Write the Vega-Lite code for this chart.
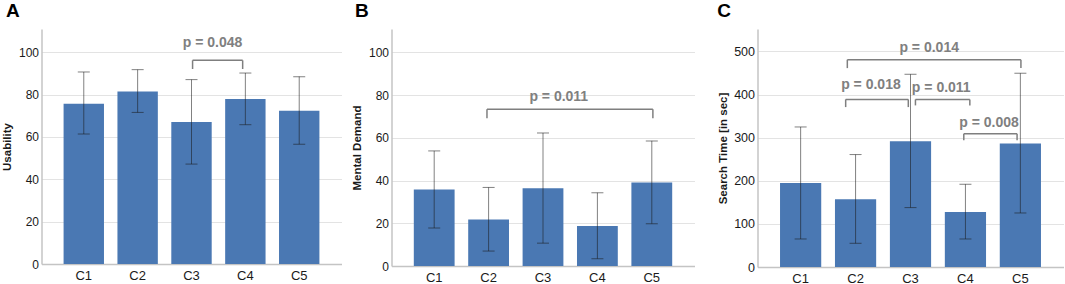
{
  "$schema": "https://vega.github.io/schema/vega-lite/v6.json",
  "padding": {"left": 1.5, "top": 2, "right": 0, "bottom": 0},
  "background": "white",
  "datasets": {
    "barsA": [
      {"cond": "C1", "mean": 75.7, "lo": 61.4, "hi": 90.7},
      {"cond": "C2", "mean": 81.5, "lo": 71.6, "hi": 91.8},
      {"cond": "C3", "mean": 67.1, "lo": 47.2, "hi": 87.1},
      {"cond": "C4", "mean": 77.9, "lo": 65.8, "hi": 90.2},
      {"cond": "C5", "mean": 72.4, "lo": 56.6, "hi": 88.5}
    ],
    "barsB": [
      {"cond": "C1", "mean": 35.8, "lo": 17.8, "hi": 53.9},
      {"cond": "C2", "mean": 21.8, "lo": 7.0, "hi": 36.8},
      {"cond": "C3", "mean": 36.4, "lo": 10.7, "hi": 62.3},
      {"cond": "C4", "mean": 18.7, "lo": 3.4, "hi": 34.3},
      {"cond": "C5", "mean": 39.1, "lo": 19.8, "hi": 58.6}
    ],
    "barsC": [
      {"cond": "C1", "mean": 194.9, "lo": 65, "hi": 324.8},
      {"cond": "C2", "mean": 157, "lo": 55, "hi": 260.8},
      {"cond": "C3", "mean": 291.6, "lo": 137.8, "hi": 447},
      {"cond": "C4", "mean": 127.6, "lo": 65, "hi": 191.9},
      {"cond": "C5", "mean": 286.3, "lo": 125.3, "hi": 449.4}
    ],
    "brA": [
      {"label": "p = 0.048", "x1": 3.02, "x2": 3.95, "yb": 96.2, "yl": 92.1, "tx": 3.39, "ty": 102.4}
    ],
    "brB": [
      {"label": "p = 0.011", "x1": 1.97, "x2": 5.02, "yb": 73.4, "yl": 69.2, "tx": 3.29, "ty": 77.4}
    ],
    "brC": [
      {"label": "p = 0.014", "x1": 1.85, "x2": 5.01, "yb": 480.8, "yl": 461.3, "tx": 3.34, "ty": 498},
      {"label": "p = 0.018", "x1": 1.82, "x2": 2.96, "yb": 388.7, "yl": 370.9, "tx": 2.28, "ty": 413.5},
      {"label": "p = 0.011", "x1": 3.09, "x2": 4.08, "yb": 388.7, "yl": 374.8, "tx": 3.56, "ty": 405.7},
      {"label": "p = 0.008", "x1": 3.97, "x2": 4.94, "yb": 309.2, "yl": 293.7, "tx": 4.43, "ty": 324.5}
    ]
  },
  "spacing": 22,
  "hconcat": [
    {
      "spacing": 10,
      "hconcat": [
        {
          "width": 300, "height": 235,
          "title": {"text": "A", "dx": 4},
          "resolve": {"scale": {"x": "independent"}},
          "layer": [
            {
              "data": {"name": "barsA"},
              "layer": [
                {"mark": {"type": "bar", "color": "#4a78b3"},
                 "encoding": {
                   "x": {"field": "cond", "type": "nominal", "title": null, "scale": {"paddingInner": 0.25, "paddingOuter": 0.41}},
                   "y": {"field": "mean", "type": "quantitative", "title": "Usability", "scale": {"domain": [0, 111], "nice": false}, "axis": {"values": [0, 20, 40, 60, 80, 100]}}
                 }},
                {"mark": {"type": "rule", "color": "#1a1a1a", "opacity": 0.55, "strokeWidth": 1},
                 "encoding": {"x": {"field": "cond", "type": "nominal"}, "y": {"field": "lo", "type": "quantitative"}, "y2": {"field": "hi"}}},
                {"mark": {"type": "tick", "color": "#1a1a1a", "opacity": 0.55, "size": 12, "thickness": 1},
                 "encoding": {"x": {"field": "cond", "type": "nominal"}, "y": {"field": "lo", "type": "quantitative"}}},
                {"mark": {"type": "tick", "color": "#1a1a1a", "opacity": 0.55, "size": 12, "thickness": 1},
                 "encoding": {"x": {"field": "cond", "type": "nominal"}, "y": {"field": "hi", "type": "quantitative"}}}
              ]
            },
            {
              "data": {"name": "brA"},
              "encoding": {"x": {"field": "x1", "type": "quantitative", "axis": null, "scale": {"domain": [0.215, 5.785], "nice": false, "zero": false}}},
              "layer": [
                {"mark": {"type": "rule", "color": "#7f7f7f", "strokeWidth": 1.5}, "encoding": {"x2": {"field": "x2"}, "y": {"field": "yb", "type": "quantitative"}}},
                {"mark": {"type": "rule", "color": "#7f7f7f", "strokeWidth": 1.5}, "encoding": {"y": {"field": "yb", "type": "quantitative"}, "y2": {"field": "yl"}}},
                {"mark": {"type": "rule", "color": "#7f7f7f", "strokeWidth": 1.5}, "encoding": {"x": {"field": "x2", "type": "quantitative"}, "y": {"field": "yb", "type": "quantitative"}, "y2": {"field": "yl"}}},
                {"mark": {"type": "text", "color": "#808080", "fontSize": 14, "fontWeight": "bold", "baseline": "alphabetic", "align": "center"},
                 "encoding": {"x": {"field": "tx", "type": "quantitative"}, "y": {"field": "ty", "type": "quantitative"}, "text": {"field": "label"}}}
              ]
            }
          ]
        },
        {
          "width": 303, "height": 237,
          "title": {"text": "B", "dx": 3},
          "resolve": {"scale": {"x": "independent"}},
          "layer": [
            {
              "data": {"name": "barsB"},
              "layer": [
                {"mark": {"type": "bar", "color": "#4a78b3"},
                 "encoding": {
                   "x": {"field": "cond", "type": "nominal", "title": null, "scale": {"paddingInner": 0.25, "paddingOuter": 0.41}},
                   "y": {"field": "mean", "type": "quantitative", "title": "Mental Demand", "scale": {"domain": [0, 111], "nice": false}, "axis": {"values": [0, 20, 40, 60, 80, 100]}}
                 }},
                {"mark": {"type": "rule", "color": "#1a1a1a", "opacity": 0.55, "strokeWidth": 1},
                 "encoding": {"x": {"field": "cond", "type": "nominal"}, "y": {"field": "lo", "type": "quantitative"}, "y2": {"field": "hi"}}},
                {"mark": {"type": "tick", "color": "#1a1a1a", "opacity": 0.55, "size": 12, "thickness": 1},
                 "encoding": {"x": {"field": "cond", "type": "nominal"}, "y": {"field": "lo", "type": "quantitative"}}},
                {"mark": {"type": "tick", "color": "#1a1a1a", "opacity": 0.55, "size": 12, "thickness": 1},
                 "encoding": {"x": {"field": "cond", "type": "nominal"}, "y": {"field": "hi", "type": "quantitative"}}}
              ]
            },
            {
              "data": {"name": "brB"},
              "encoding": {"x": {"field": "x1", "type": "quantitative", "axis": null, "scale": {"domain": [0.215, 5.785], "nice": false, "zero": false}}},
              "layer": [
                {"mark": {"type": "rule", "color": "#7f7f7f", "strokeWidth": 1.5}, "encoding": {"x2": {"field": "x2"}, "y": {"field": "yb", "type": "quantitative"}}},
                {"mark": {"type": "rule", "color": "#7f7f7f", "strokeWidth": 1.5}, "encoding": {"y": {"field": "yb", "type": "quantitative"}, "y2": {"field": "yl"}}},
                {"mark": {"type": "rule", "color": "#7f7f7f", "strokeWidth": 1.5}, "encoding": {"x": {"field": "x2", "type": "quantitative"}, "y": {"field": "yb", "type": "quantitative"}, "y2": {"field": "yl"}}},
                {"mark": {"type": "text", "color": "#808080", "fontSize": 14, "fontWeight": "bold", "baseline": "alphabetic", "align": "center"},
                 "encoding": {"x": {"field": "tx", "type": "quantitative"}, "y": {"field": "ty", "type": "quantitative"}, "text": {"field": "label"}}}
              ]
            }
          ]
        }
      ]
    },
    {
      "width": 306, "height": 238,
      "title": {"text": "C", "dx": 0},
      "resolve": {"scale": {"x": "independent"}},
      "layer": [
        {
          "data": {"name": "barsC"},
          "layer": [
            {"mark": {"type": "bar", "color": "#4a78b3"},
             "encoding": {
               "x": {"field": "cond", "type": "nominal", "title": null, "scale": {"paddingInner": 0.25, "paddingOuter": 0.41}},
               "y": {"field": "mean", "type": "quantitative", "title": "Search Time [in sec]", "scale": {"domain": [0, 552], "nice": false}, "axis": {"values": [0, 100, 200, 300, 400, 500], "labelFontSize": 12.5}}
             }},
            {"mark": {"type": "rule", "color": "#1a1a1a", "opacity": 0.55, "strokeWidth": 1},
             "encoding": {"x": {"field": "cond", "type": "nominal"}, "y": {"field": "lo", "type": "quantitative"}, "y2": {"field": "hi"}}},
            {"mark": {"type": "tick", "color": "#1a1a1a", "opacity": 0.55, "size": 12, "thickness": 1},
             "encoding": {"x": {"field": "cond", "type": "nominal"}, "y": {"field": "lo", "type": "quantitative"}}},
            {"mark": {"type": "tick", "color": "#1a1a1a", "opacity": 0.55, "size": 12, "thickness": 1},
             "encoding": {"x": {"field": "cond", "type": "nominal"}, "y": {"field": "hi", "type": "quantitative"}}}
          ]
        },
        {
          "data": {"name": "brC"},
          "encoding": {"x": {"field": "x1", "type": "quantitative", "axis": null, "scale": {"domain": [0.215, 5.785], "nice": false, "zero": false}}},
          "layer": [
            {"mark": {"type": "rule", "color": "#7f7f7f", "strokeWidth": 1.5}, "encoding": {"x2": {"field": "x2"}, "y": {"field": "yb", "type": "quantitative"}}},
            {"mark": {"type": "rule", "color": "#7f7f7f", "strokeWidth": 1.5}, "encoding": {"y": {"field": "yb", "type": "quantitative"}, "y2": {"field": "yl"}}},
            {"mark": {"type": "rule", "color": "#7f7f7f", "strokeWidth": 1.5}, "encoding": {"x": {"field": "x2", "type": "quantitative"}, "y": {"field": "yb", "type": "quantitative"}, "y2": {"field": "yl"}}},
            {"mark": {"type": "text", "color": "#808080", "fontSize": 14, "fontWeight": "bold", "baseline": "alphabetic", "align": "center"},
             "encoding": {"x": {"field": "tx", "type": "quantitative"}, "y": {"field": "ty", "type": "quantitative"}, "text": {"field": "label"}}}
          ]
        }
      ]
    }
  ],
  "config": {
    "font": "Liberation Sans",
    "view": {"stroke": null},
    "title": {"anchor": "start", "frame": "bounds", "fontSize": 19, "fontWeight": "bold", "color": "#000000", "offset": 8},
    "axis": {"domainColor": "#c4c4c4", "domainWidth": 1.5, "ticks": false, "gridColor": "#e3e3e3", "labelColor": "#1a1a1a", "titleColor": "#1a1a1a"},
    "axisX": {"grid": false, "labelAngle": 0, "labelFontSize": 13, "labelPadding": 5},
    "axisY": {"labelFontSize": 12, "labelPadding": 3, "titleFontSize": 11.5, "titleFontWeight": "bold", "titlePadding": 5.5}
  }
}
